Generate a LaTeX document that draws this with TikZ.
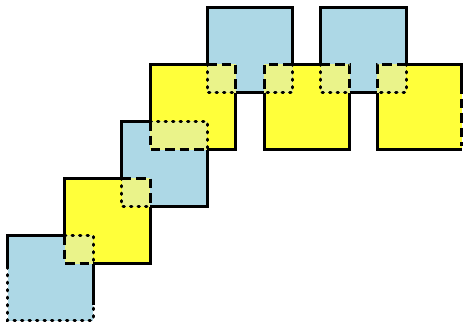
\documentclass[tikz,border=0pt]{standalone}
\begin{document}
\begin{tikzpicture}[x=1pt,y=-1pt]
\definecolor{bluec}{RGB}{173,216,230}
\definecolor{yelc}{RGB}{255,255,58}
\definecolor{mixc}{RGB}{234,243,138}
\tikzset{
  solidln/.style={line width=3pt, line join=miter},
  dotln/.style={line width=3pt, line cap=round, dash pattern=on 1.3pt off 6.2pt},
  dashln/.style={line width=3pt, dash pattern=on 9.5pt off 5pt},
}
\useasboundingbox (0,0) rectangle (463,325);
% square fills
\fill[bluec] (7.5,235) rectangle ++(85.5,85.5);
\fill[yelc] (64.5,178) rectangle ++(85.5,85.5);
\fill[bluec] (121.5,121) rectangle ++(85.5,85.5);
\fill[yelc] (150,64) rectangle ++(85.5,85.5);
\fill[bluec] (207,7) rectangle ++(85.5,85.5);
\fill[yelc] (264,64) rectangle ++(85.5,85.5);
\fill[bluec] (320.5,7) rectangle ++(85.5,85.5);
\fill[yelc] (377,64) rectangle (461.6,149.5);
% overlap fills
\fill[mixc] (64.5,235) rectangle (93,263.5);
\fill[mixc] (121.5,178) rectangle (150,206.5);
\fill[mixc] (150,121) rectangle (207,149.5);
\fill[mixc] (207,64) rectangle (235.5,92.5);
\fill[mixc] (264,64) rectangle (292.5,92.5);
\fill[mixc] (320.5,64) rectangle (349.5,92.5);
\fill[mixc] (377,64) rectangle (406,92.5);
% solid borders
\draw[solidln] (64.5,235) -- (7.5,235) -- (7.5,267);
\draw[solidln] (93,263.5) -- (93,305);
\draw[dotln] (7.5,267) -- (7.5,320.5) -- (93,320.5) -- (93,305);
\draw[solidln] (64.5,235) -- (64.5,178) -- (121.5,178);
\draw[solidln] (150,206.5) -- (150,263.5) -- (93,263.5);
\draw[solidln] (150,121) -- (121.5,121) -- (121.5,178);
\draw[solidln] (150,206.5) -- (207,206.5) -- (207,149.5);
\draw[solidln] (150,121) -- (150,64) -- (207,64);
\draw[solidln] (235.5,92.5) -- (235.5,149.5) -- (207,149.5);
\draw[solidln] (207,64) -- (207,7) -- (292.5,7) -- (292.5,64);
\draw[solidln] (235.5,92.5) -- (264,92.5);
\draw[solidln] (292.5,64) -- (320.5,64);
\draw[solidln] (349.5,92.5) -- (349.5,149.5) -- (264,149.5) -- (264,92.5);
\draw[solidln] (320.5,64) -- (320.5,7) -- (406,7) -- (406,64);
\draw[solidln] (349.5,92.5) -- (377,92.5);
\draw[solidln] (406,64) -- (461.5,64) -- (461.5,84);
\draw[dashln] (461.5,84) -- (461.5,146);
\draw[solidln] (461.5,149.5) -- (377,149.5) -- (377,92.5);
% overlap borders
\draw[dotln] (64.5,235) -- (93,235) -- (93,263.5);
\draw[dashln] (64.5,235) -- (64.5,263.5) -- (93,263.5);
\draw[dashln] (121.5,178) -- (150,178) -- (150,206.5);
\draw[dotln] (121.5,178) -- (121.5,206.5) -- (150,206.5);
\draw[dotln] (150,121) -- (207,121) -- (207,149.5);
\draw[dashln] (150,121) -- (150,149.5) -- (207,149.5);
\draw[dashln] (207,64) -- (235.5,64) -- (235.5,92.5);
\draw[dotln] (207,64) -- (207,92.5) -- (235.5,92.5);
\draw[dashln] (292.5,64) -- (264,64) -- (264,92.5);
\draw[dotln] (292.5,64) -- (292.5,92.5) -- (264,92.5);
\draw[dashln] (320.5,64) -- (349.5,64) -- (349.5,92.5);
\draw[dotln] (320.5,64) -- (320.5,92.5) -- (349.5,92.5);
\draw[dashln] (406,64) -- (377,64) -- (377,92.5);
\draw[dotln] (406,64) -- (406,92.5) -- (377,92.5);
\end{tikzpicture}
\end{document}
